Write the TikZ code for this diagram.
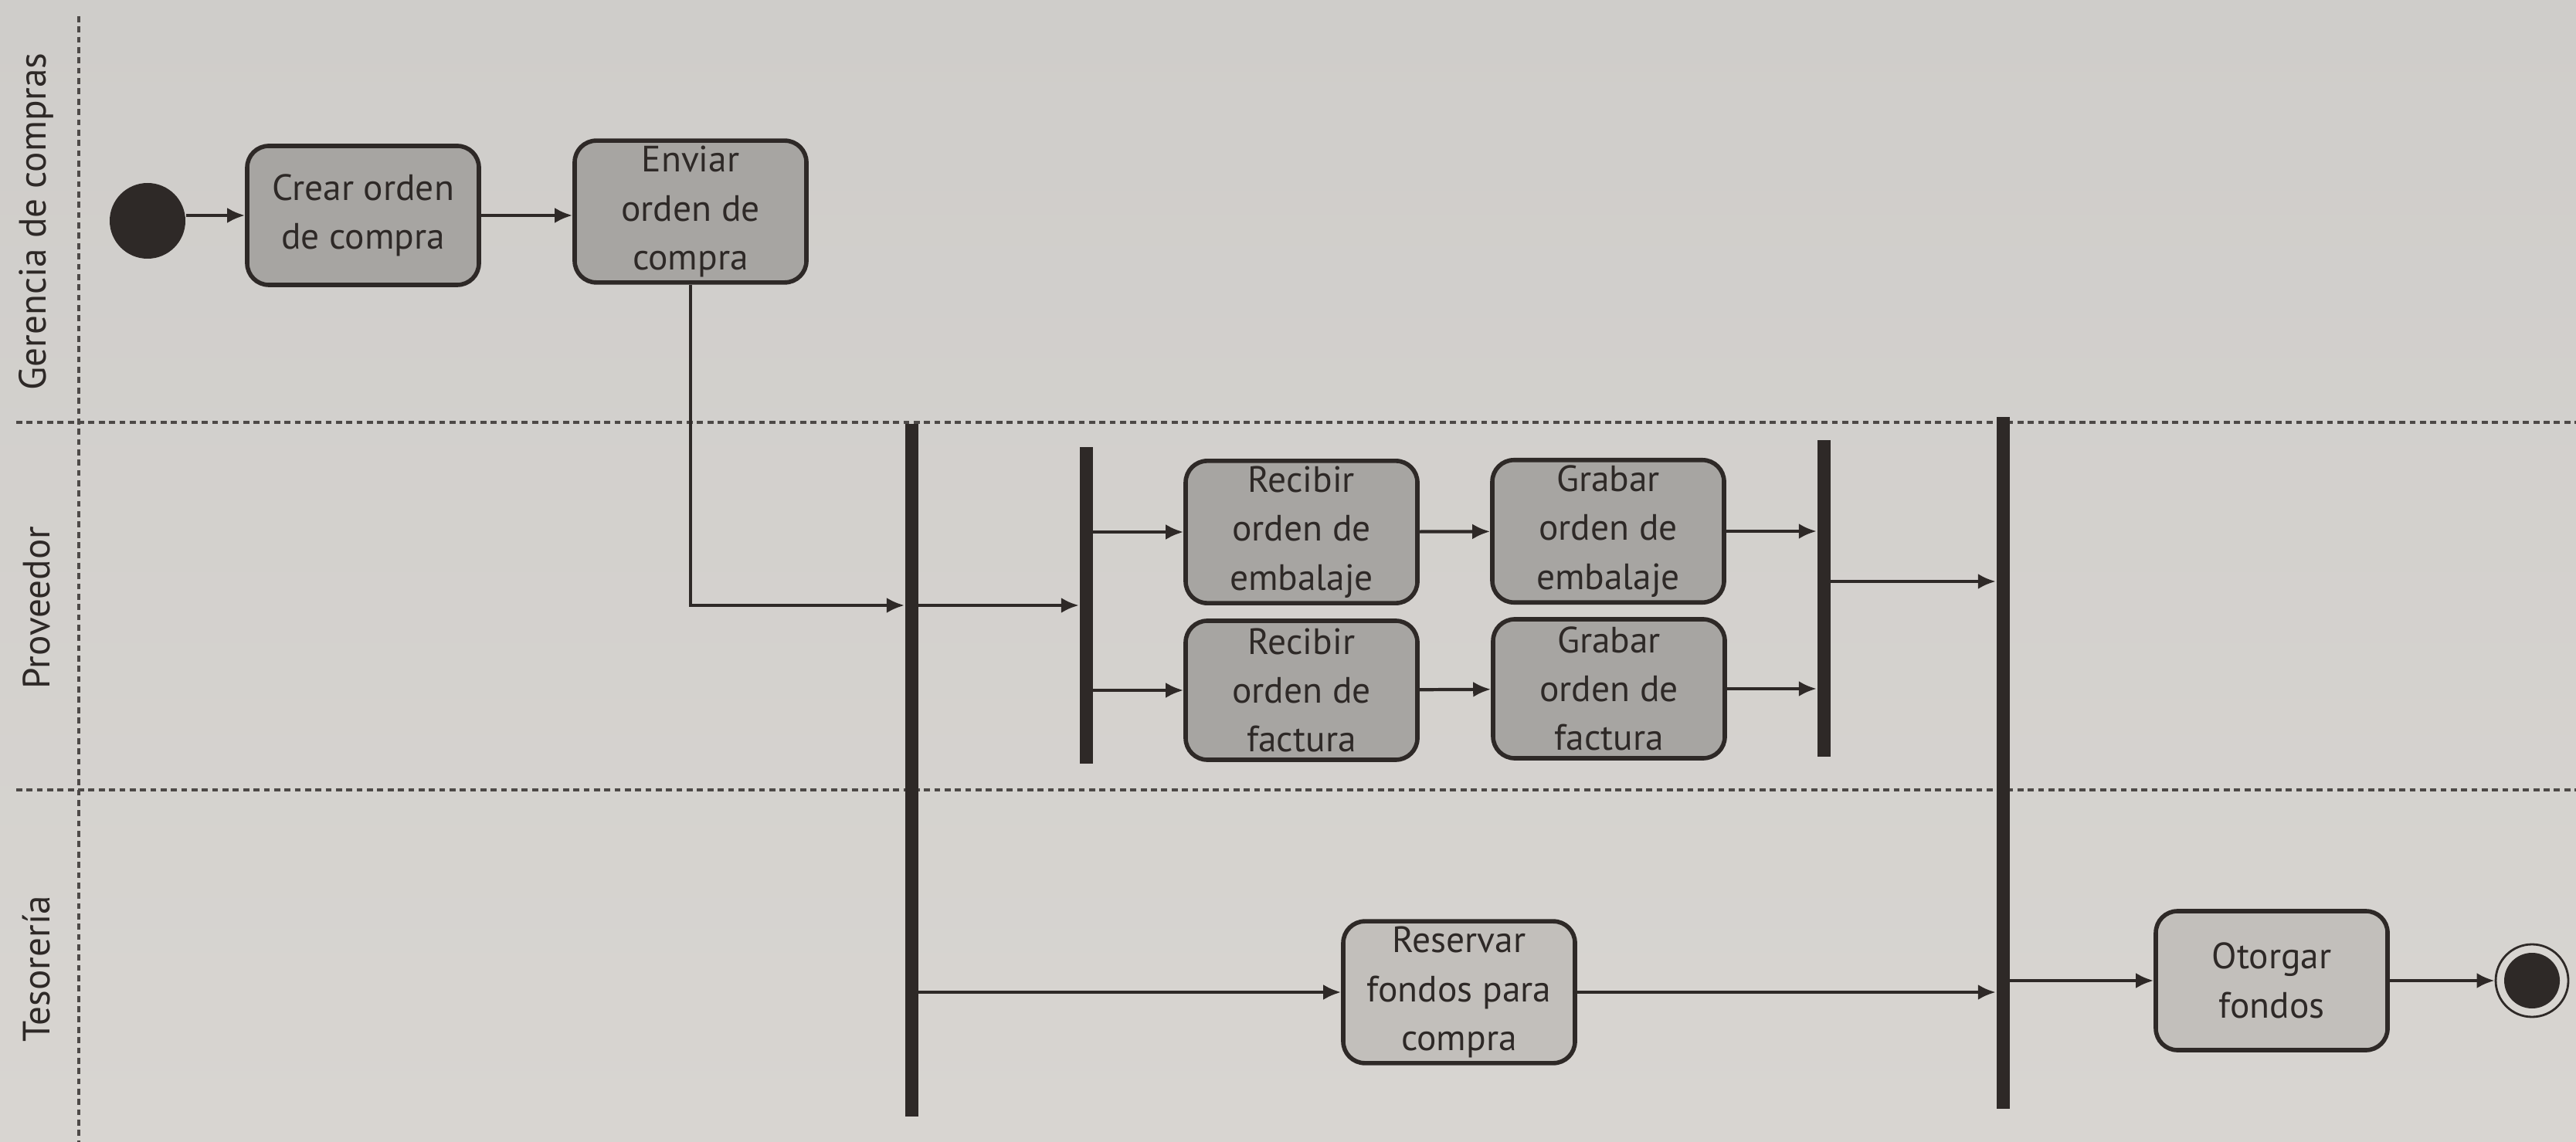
\documentclass[tikz,border=0pt]{standalone}
\usepackage{fontspec}
\setmainfont{PT Sans}
\usetikzlibrary{calc,arrows.meta}
\definecolor{papel}{HTML}{CFCDCA}
\definecolor{papelb}{HTML}{D8D5D1}
\definecolor{caja}{HTML}{A7A5A2}
\definecolor{cajaclara}{HTML}{C2BFBB}
\definecolor{tinta}{HTML}{2E2927}
\newcommand{\inicioradius}{0.49}
\newcommand{\finouterradius}{0.47}
\newcommand{\fininnerradius}{0.36}
\tikzset{
    actividad/.style={draw=tinta, fill=caja, line width=1.6pt, rounded corners=0.28cm,
        minimum width=3cm, minimum height=1.8cm, align=center, inner sep=2pt,
        font=\fontsize{13.5}{18}\selectfont, text=tinta},
    barra/.style={fill=tinta, draw=none, inner sep=0pt, minimum width=0.17cm},
    flujo/.style={draw=tinta, line width=1.2pt, -{Latex[length=2.3mm,width=2mm]}},
    carril/.style={draw=tinta!85, line width=1.1pt, dash pattern=on 2.2pt off 1.6pt},
    etiqueta/.style={rotate=90, font=\fontsize{14}{18}\selectfont, text=tinta}
}

\begin{document}
\begin{tikzpicture}

% page and paper
\useasboundingbox (0,0) rectangle (33.35,-14.79);
\shade[top color=papel, bottom color=papelb] (0,0) rectangle (33.35,-14.79);

% swimlanes
\draw[carril] (1.02,-0.21) -- (1.02,-14.79);
\foreach \ylane in {-5.47, -10.23}
    \draw[carril] (0.21,\ylane) -- (33.35,\ylane);
\node[etiqueta] (lgerencia) at (0.47,-2.87) {Gerencia de compras};
\node[etiqueta] (lproveedor) at (0.47,-7.87) {Proveedor};
\node[etiqueta] (ltesoreria) at (0.47,-12.55) {Tesorería};

% start and end
\node[circle, fill=tinta, minimum size=2*\inicioradius cm, inner sep=0pt] (inicio) at (1.91,-2.86) {};
\node[circle, draw=tinta, line width=0.8pt, fill=papelb, minimum size=2*\finouterradius cm, inner sep=0pt] (fin) at (32.78,-12.70) {};
\fill[tinta] (fin) circle (\fininnerradius);

% activities
\node[actividad] (crear) at (4.70,-2.79) {Crear orden\\de compra};
\node[actividad] (enviar) at (8.94,-2.74) {Enviar\\orden de\\compra};
\node[actividad] (recemb) at (16.85,-6.89) {Recibir\\orden de\\embalaje};
\node[actividad] (recfac) at (16.85,-8.94) {Recibir\\orden de\\factura};
\node[actividad] (grabemb) at (20.82,-6.88) {Grabar\\orden de\\embalaje};
\node[actividad] (grabfac) at (20.83,-8.92) {Grabar\\orden de\\factura};
\node[actividad, fill=cajaclara] (reservar) at (18.89,-12.85) {Reservar\\fondos para\\compra};
\node[actividad, fill=cajaclara] (otorgar) at (29.41,-12.70) {Otorgar\\fondos};

% fork and join bars
\node[barra, minimum height=8.97cm] (bar1) at (11.80,-9.975) {};
\node[barra, minimum height=4.10cm] (bar2) at (14.06,-7.84) {};
\node[barra, minimum height=4.10cm] (bar3) at (23.61,-7.75) {};
\node[barra, minimum height=8.96cm] (bar4) at (25.93,-9.88) {};

% flows
\draw[flujo] (inicio.east |- crear.west) -- (crear.west);
\draw[flujo] (crear.east) -- (crear.east -| enviar.west);
\draw[flujo, line width=1pt] (enviar.south) |- (bar1.west |- bar2.west);
\draw[flujo] (bar1.east |- bar2.west) -- (bar2.west);
\draw[flujo] (bar2.east |- recemb.west) -- (recemb.west);
\draw[flujo] (bar2.east |- recfac.west) -- (recfac.west);
\draw[flujo] (recemb) -- (grabemb);
\draw[flujo] (recfac) -- (grabfac);
\draw[flujo] (grabemb.east) -- (grabemb.east -| bar3.west);
\draw[flujo] (grabfac.east) -- (grabfac.east -| bar3.west);
\draw[flujo] ($(bar3.east)+(0,0.22)$) -- ($(bar3.east -| bar4.west)+(0,0.22)$);
\draw[flujo] (bar1.east |- reservar.west) -- (reservar.west);
\draw[flujo] (reservar.east) -- (reservar.east -| bar4.west);
\draw[flujo] (bar4.east |- otorgar.west) -- (otorgar.west);
\draw[flujo] (otorgar) -- (fin);

\end{tikzpicture}
\end{document}
